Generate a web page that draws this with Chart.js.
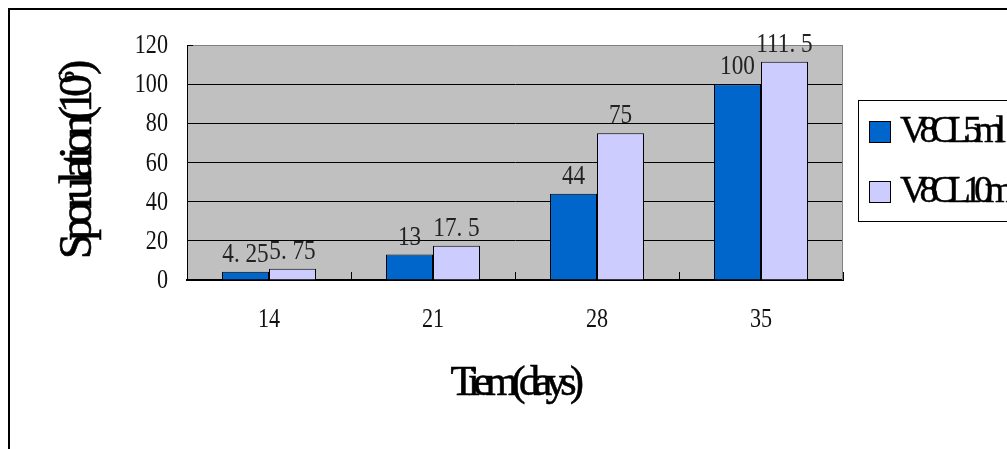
<!DOCTYPE html>
<html>
<head>
<meta charset="utf-8">
<script src="https://cdn.jsdelivr.net/npm/chart.js@4/dist/chart.umd.min.js"></script>
<style>
  html, body { margin: 0; padding: 0; background: #fff; }
  #wrap { width: 1007px; height: 449px; position: relative; }
</style>
</head>
<body>
<div id="wrap"><canvas id="c" width="1007" height="449"></canvas></div>
<script>
// Sporulation counts per sampling day, two inoculum volumes
const days = ['14', '21', '28', '35'];
const seriesNames = ['V8CL5ml', 'V8CL10ml'];
const v8cl5ml = [4.25, 13, 44, 100];
const v8cl10ml = [5.75, 17.5, 75, 111.5];
const yTicks = [0, 20, 40, 60, 80, 100, 120];
const xTitle = 'Tiem(days)';
const yTitleMain = 'Sporulation(10';
const yTitleSup = '6';
const yTitleEnd = ')';

const SERIF = '"Liberation Serif", "DejaVu Serif", serif';

function drawScaled(ctx, text, x, y, font, sx, align, baseline) {
  ctx.save();
  ctx.font = font;
  ctx.textAlign = align;
  ctx.textBaseline = baseline;
  ctx.translate(x, y);
  ctx.scale(sx, 1);
  ctx.fillText(text, 0, 0);
  ctx.restore();
}

// heavy, tightly tracked title text
function drawHeavy(ctx, text, x, y) {
  ctx.fillText(text, x, y);
  ctx.strokeText(text, x, y);
}

function fmt(v) {
  // wide-period style used on the value labels
  return String(v).replace('.', '. ');
}

const decor = {
  id: 'decor',
  beforeDraw(chart) {
    const { ctx, chartArea: a } = chart;
    ctx.save();
    ctx.fillStyle = '#C0C0C0';
    ctx.fillRect(a.left, a.top, a.right - a.left, a.bottom - a.top);
    ctx.restore();
  },
  afterDraw(chart) {
    const { ctx, chartArea: a } = chart;
    const xs = chart.scales.x, ys = chart.scales.y;
    ctx.save();

    // outer frame
    ctx.strokeStyle = '#000';
    ctx.lineWidth = 2;
    ctx.strokeRect(9, 9, 1100, 1100);

    // right plot border
    ctx.strokeStyle = '#808080';
    ctx.lineWidth = 1;
    ctx.beginPath();
    ctx.moveTo(Math.round(a.right) - 0.5, a.top);
    ctx.lineTo(Math.round(a.right) - 0.5, a.bottom);
    ctx.stroke();

    // small inward tick at the top of the value axis
    ctx.strokeStyle = '#000';
    ctx.beginPath();
    ctx.moveTo(a.left, Math.round(ys.getPixelForValue(120)) + 0.5);
    ctx.lineTo(a.left + 6, Math.round(ys.getPixelForValue(120)) + 0.5);
    ctx.stroke();

    // category boundary ticks on the base axis
    ctx.beginPath();
    for (let i = 0; i < days.length; i++) {
      const c = xs.getPixelForValue(i);
      const next = i < days.length - 1 ? xs.getPixelForValue(i + 1) : c + (c - xs.getPixelForValue(i - 1));
      const bx = Math.round((c + next) / 2) + 0.5;
      ctx.moveTo(bx, a.bottom);
      ctx.lineTo(bx, a.bottom - 8);
    }
    ctx.stroke();

    ctx.fillStyle = '#111';
    // value axis labels
    yTicks.forEach(v => {
      drawScaled(ctx, String(v), 168, ys.getPixelForValue(v) + 1, '27px ' + SERIF, 0.82, 'right', 'middle');
    });
    // category labels
    days.forEach((d, i) => {
      drawScaled(ctx, d, xs.getPixelForValue(i), 327, '27px ' + SERIF, 0.82, 'center', 'alphabetic');
    });

    // value labels above bars
    ctx.fillStyle = '#222';
    chart.data.datasets.forEach((ds, di) => {
      const meta = chart.getDatasetMeta(di);
      meta.data.forEach((bar, i) => {
        drawScaled(ctx, fmt(ds.data[i]), bar.x, bar.y - 10, '27px ' + SERIF, 0.86, 'center', 'alphabetic');
      });
    });

    // legend
    ctx.fillStyle = '#fff';
    ctx.fillRect(859, 101, 200, 120);
    ctx.strokeStyle = '#000';
    ctx.lineWidth = 1;
    ctx.strokeRect(858.5, 100.5, 200, 121);
    const rows = [132, 192];
    chart.data.datasets.forEach((ds, di) => {
      const cy = rows[di];
      ctx.fillStyle = ds.backgroundColor;
      ctx.fillRect(869, cy - 11, 22, 22);
      ctx.strokeStyle = '#000';
      ctx.lineWidth = 1;
      ctx.strokeRect(869.5, cy - 10.5, 21, 21);
      ctx.fillStyle = '#000';
      ctx.font = '38px ' + SERIF;
      ctx.letterSpacing = '-8px';
      ctx.textAlign = 'left';
      ctx.textBaseline = 'alphabetic';
      ctx.lineWidth = 0.4;
      drawHeavy(ctx, ds.label, 900, cy + 10);
      ctx.letterSpacing = '0px';
    });

    // x title
    ctx.fillStyle = '#000';
    ctx.strokeStyle = '#000';
    ctx.lineWidth = 0.6;
    ctx.font = '42px ' + SERIF;
    ctx.letterSpacing = '-6.5px';
    ctx.textAlign = 'center';
    ctx.textBaseline = 'alphabetic';
    drawHeavy(ctx, xTitle, 514, 395);

    // y title, rotated
    ctx.save();
    ctx.translate(91, 259);
    ctx.rotate(-Math.PI / 2);
    ctx.textAlign = 'left';
    ctx.font = '46px ' + SERIF;
    ctx.letterSpacing = '-7px';
    drawHeavy(ctx, yTitleMain, 0, 0);
    let px = ctx.measureText(yTitleMain).width;
    ctx.font = '24px ' + SERIF;
    ctx.letterSpacing = '0px';
    drawHeavy(ctx, yTitleSup, px - 2, -17);
    px += ctx.measureText(yTitleSup).width - 6;
    ctx.font = '46px ' + SERIF;
    drawHeavy(ctx, yTitleEnd, px, 0);
    ctx.restore();

    ctx.restore();
  }
};

new Chart(document.getElementById('c'), {
  type: 'bar',
  data: {
    labels: days,
    datasets: [
      { label: seriesNames[0], data: v8cl5ml, backgroundColor: '#0066CC', borderColor: '#000', borderWidth: 1 },
      { label: seriesNames[1], data: v8cl10ml, backgroundColor: '#CCCCFF', borderColor: '#000', borderWidth: 1 }
    ]
  },
  options: {
    responsive: false,
    animation: false,
    events: [],
    categoryPercentage: 0.573,
    barPercentage: 1,
    layout: { padding: { top: 45, right: 164, left: 0, bottom: 0 } },
    plugins: { legend: { display: false }, tooltip: { enabled: false } },
    scales: {
      x: {
        grid: { display: false },
        border: { display: true, color: '#000', width: 2 },
        ticks: { display: false },
        afterFit(scale) { scale.height = 169; }
      },
      y: {
        min: 0, max: 120,
        ticks: { display: false, stepSize: 20 },
        grid: {
          drawTicks: false,
          color: c => (c.tick && c.tick.value === 120 ? '#808080' : '#000'),
          lineWidth: 1
        },
        border: { display: true, color: '#000', width: 1 },
        afterFit(scale) { scale.width = 187; }
      }
    }
  },
  plugins: [decor]
});
</script>
</body>
</html>
